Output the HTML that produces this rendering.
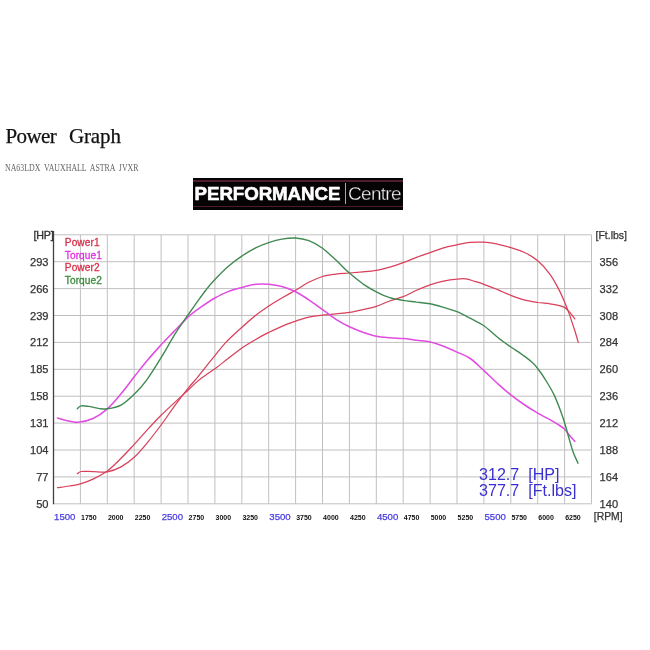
<!DOCTYPE html>
<html><head><meta charset="utf-8"><title>Power Graph</title>
<style>
html,body{margin:0;padding:0;background:#fff;}
body{width:650px;height:650px;overflow:hidden;position:relative;font-family:"Liberation Sans",sans-serif;}
#t1{position:absolute;left:5.6px;top:124px;font-family:"Liberation Serif",serif;font-size:21px;line-height:24px;color:#111;white-space:nowrap;-webkit-text-stroke:0.25px #111;}
#t1 .w1{letter-spacing:-0.65px;}#t1 .w2{letter-spacing:-0.15px;margin-left:7.75px;}
#t2{position:absolute;left:4.5px;top:160px;font-family:"Liberation Serif",serif;font-size:10.8px;line-height:14px;color:#666;letter-spacing:0px;white-space:nowrap;transform-origin:0 0;transform:scaleX(0.728);word-spacing:2.5px;}
#logo{position:absolute;left:193px;top:178px;width:210px;height:32px;background:#050303;}
#logo .l1,#logo .l2{position:absolute;left:0;width:100%;height:1.4px;background:#4e1c2a;}
#logo .l1{top:2.4px}#logo .l2{top:28px}
#logo .p{position:absolute;left:1.6px;top:5px;font-weight:bold;font-size:18.7px;line-height:22px;color:#fff;letter-spacing:-0.06px;-webkit-text-stroke:0.6px #fff;white-space:nowrap;}
#logo .bar{position:absolute;left:152px;top:5px;width:1px;height:21px;background:#aaa;}
#logo .c{position:absolute;left:155px;top:5px;font-size:19px;line-height:22px;color:#f4f4f4;letter-spacing:-0.7px;-webkit-text-stroke:0.35px #050303;white-space:nowrap;}
svg{position:absolute;left:0;top:0;}
svg text{font-family:"Liberation Sans",sans-serif;}
.ax{font-size:11.1px;fill:#333;stroke:#333;stroke-width:0.25px;}
.xb{font-size:9.6px;fill:#483ce0;stroke:#483ce0;stroke-width:0.25px;}
.xs{font-size:7px;fill:#111;font-weight:bold;}
.lg{font-size:10.15px;stroke-width:0.3px;letter-spacing:0.08px;}
.big{font-size:16.1px;fill:#3a30d0;}
</style></head><body>
<div id="t1"><span class="w1">Power</span> <span class="w2">Graph</span></div>
<div id="t2">NA63LDX VAUXHALL ASTRA JVXR</div>
<div id="logo"><div class="l1"></div><div class="l2"></div><span class="p">PERFORMANCE</span><div class="bar"></div><span class="c">Centre</span></div>
<svg width="650" height="650" viewBox="0 0 650 650">
<g stroke="#c0c0c0" stroke-width="1" fill="none"><line x1="80.4" y1="234.8" x2="80.4" y2="503.8"/><line x1="107.3" y1="234.8" x2="107.3" y2="503.8"/><line x1="134.2" y1="234.8" x2="134.2" y2="503.8"/><line x1="161.1" y1="234.8" x2="161.1" y2="503.8"/><line x1="188.0" y1="234.8" x2="188.0" y2="503.8"/><line x1="214.9" y1="234.8" x2="214.9" y2="503.8"/><line x1="241.8" y1="234.8" x2="241.8" y2="503.8"/><line x1="268.7" y1="234.8" x2="268.7" y2="503.8"/><line x1="295.6" y1="234.8" x2="295.6" y2="503.8"/><line x1="322.5" y1="234.8" x2="322.5" y2="503.8"/><line x1="349.4" y1="234.8" x2="349.4" y2="503.8"/><line x1="376.3" y1="234.8" x2="376.3" y2="503.8"/><line x1="403.2" y1="234.8" x2="403.2" y2="503.8"/><line x1="430.1" y1="234.8" x2="430.1" y2="503.8"/><line x1="457.0" y1="234.8" x2="457.0" y2="503.8"/><line x1="483.9" y1="234.8" x2="483.9" y2="503.8"/><line x1="510.8" y1="234.8" x2="510.8" y2="503.8"/><line x1="537.7" y1="234.8" x2="537.7" y2="503.8"/><line x1="564.6" y1="234.8" x2="564.6" y2="503.8"/><line x1="591.5" y1="234.8" x2="591.5" y2="503.8"/><line x1="53.5" y1="234.8" x2="591.5" y2="234.8"/><line x1="53.5" y1="261.7" x2="591.5" y2="261.7"/><line x1="53.5" y1="288.6" x2="591.5" y2="288.6"/><line x1="53.5" y1="315.5" x2="591.5" y2="315.5"/><line x1="53.5" y1="342.4" x2="591.5" y2="342.4"/><line x1="53.5" y1="369.3" x2="591.5" y2="369.3"/><line x1="53.5" y1="396.2" x2="591.5" y2="396.2"/><line x1="53.5" y1="423.1" x2="591.5" y2="423.1"/><line x1="53.5" y1="450.0" x2="591.5" y2="450.0"/><line x1="53.5" y1="476.9" x2="591.5" y2="476.9"/><line x1="53.5" y1="503.8" x2="591.5" y2="503.8"/></g>
<line x1="53.5" y1="231" x2="53.5" y2="504.3" stroke="#404040" stroke-width="1.3"/>
<g fill="none" stroke-width="1.25" stroke-linecap="round" stroke-linejoin="round">
<path stroke="#d9405a" d="M57.5 487.7C59.5 487.4 65.6 486.7 69.4 486.0C73.2 485.4 76.5 485.1 80.4 483.9C84.3 482.7 88.6 481.2 93.0 479.1C97.5 476.9 102.6 474.4 107.3 471.0C112.0 467.5 116.5 462.8 121.0 458.3C125.5 453.9 129.9 449.0 134.2 444.4C138.5 439.7 142.4 435.2 146.8 430.4C151.3 425.5 156.4 420.0 161.1 415.3C165.8 410.6 170.3 406.6 174.8 402.4C179.3 398.2 184.2 393.8 188.0 390.3C191.8 386.7 194.7 383.7 197.7 381.1C200.7 378.5 203.3 376.7 206.2 374.7C209.0 372.6 211.2 371.5 214.9 368.8C218.6 366.1 223.6 362.0 228.1 358.5C232.6 355.1 237.1 351.3 241.8 348.0C246.5 344.8 251.6 341.8 256.1 339.2C260.5 336.6 264.4 334.6 268.7 332.4C273.0 330.3 277.4 328.1 281.9 326.3C286.4 324.4 291.1 322.7 295.6 321.1C300.1 319.6 304.3 318.1 308.8 317.1C313.3 316.1 318.0 315.8 322.5 315.2C327.0 314.7 331.5 314.4 335.9 313.9C340.4 313.4 344.9 313.1 349.4 312.4C353.9 311.7 358.4 310.6 362.8 309.6C367.3 308.6 371.8 307.8 376.3 306.4C380.8 304.9 385.3 302.6 389.8 301.0C394.2 299.4 398.7 298.5 403.2 296.7C407.7 294.9 412.2 292.2 416.6 290.2C421.1 288.2 425.6 286.4 430.1 284.8C434.6 283.3 439.1 282.0 443.5 281.1C448.0 280.1 453.3 279.4 457.0 279.1C460.7 278.7 463.0 278.5 465.9 278.9C468.8 279.3 471.5 280.4 474.5 281.3C477.5 282.2 480.0 282.9 483.9 284.3C487.8 285.7 493.7 288.1 498.2 289.9C502.6 291.8 506.5 293.7 510.8 295.3C515.1 297.0 519.5 298.7 524.0 299.9C528.5 301.1 533.4 301.8 537.7 302.5C542.0 303.1 546.4 303.3 549.8 303.8C553.3 304.3 555.9 304.7 558.4 305.3C560.9 305.9 562.8 306.4 564.6 307.4C566.4 308.5 567.5 309.8 569.2 311.7C570.9 313.6 573.9 317.7 574.8 318.9"/>
<path stroke="#d9405a" d="M77.3 473.7C78.0 473.3 78.6 471.9 81.2 471.5C83.8 471.2 88.7 471.5 93.0 471.5C97.4 471.6 102.6 472.6 107.3 471.8C112.0 471.0 116.5 469.4 121.0 466.9C125.5 464.5 129.9 461.2 134.2 457.3C138.5 453.3 142.4 448.7 146.8 443.3C151.3 437.9 156.4 431.3 161.1 425.0C165.8 418.7 170.3 411.7 174.8 405.6C179.3 399.5 184.2 393.2 188.0 388.4C191.8 383.6 194.7 380.8 197.7 377.1C200.7 373.4 203.3 369.9 206.2 366.3C209.0 362.8 211.7 359.5 214.9 355.6C218.1 351.7 221.4 347.2 225.4 342.9C229.3 338.7 233.5 335.0 238.6 330.3C243.7 325.6 251.0 319.0 256.1 315.0C261.1 310.9 264.4 308.9 268.7 306.1C273.0 303.3 277.4 300.7 281.9 298.0C286.4 295.4 291.1 292.8 295.6 290.2C300.1 287.6 304.3 284.6 308.8 282.3C313.3 280.0 318.0 277.9 322.5 276.5C327.0 275.1 331.5 274.7 335.9 274.1C340.4 273.5 344.9 273.4 349.4 273.0C353.9 272.6 358.4 272.3 362.8 271.9C367.3 271.5 371.8 271.2 376.3 270.4C380.8 269.7 385.3 268.5 389.8 267.2C394.2 265.9 398.7 264.3 403.2 262.6C407.7 261.0 412.2 258.9 416.6 257.3C421.1 255.6 425.6 254.1 430.1 252.6C434.6 251.0 439.1 249.1 443.5 247.8C448.0 246.5 452.6 245.7 457.0 244.8C461.4 243.8 465.7 242.8 470.2 242.4C474.7 242.0 479.2 241.9 483.9 242.2C488.6 242.5 493.7 243.5 498.2 244.3C502.6 245.2 506.5 246.3 510.8 247.6C515.1 248.9 519.5 250.0 524.0 252.2C528.5 254.3 533.4 257.1 537.7 260.8C542.0 264.4 546.4 269.4 549.8 274.1C553.3 278.7 555.9 283.9 558.4 288.6C560.9 293.3 562.8 297.8 564.6 302.1C566.4 306.3 567.5 309.2 569.2 313.9C570.8 318.5 573.0 325.3 574.6 330.0C576.1 334.8 577.7 340.3 578.3 342.4"/>
<path stroke="#e24ce2" stroke-width="1.55" d="M57.5 418.0C59.1 418.4 63.8 420.0 67.2 420.7C70.6 421.4 73.7 422.7 78.0 422.3C82.3 421.9 88.2 420.8 93.0 418.5C97.9 416.3 102.6 413.0 107.3 408.8C112.0 404.7 116.5 399.1 121.0 393.8C125.5 388.4 129.9 382.3 134.2 376.8C138.5 371.4 142.4 366.3 146.8 361.0C151.3 355.6 156.6 349.8 161.1 344.8C165.6 339.9 170.2 335.4 174.0 331.4C177.9 327.4 181.9 323.3 184.2 320.9C186.6 318.5 185.2 319.2 188.0 316.8C190.8 314.5 196.7 310.0 201.2 306.9C205.7 303.8 210.4 300.6 214.9 298.0C219.4 295.5 223.6 293.3 228.1 291.6C232.6 289.8 237.1 288.7 241.8 287.5C246.5 286.3 251.6 284.8 256.1 284.3C260.5 283.8 264.4 283.9 268.7 284.3C273.0 284.7 277.4 285.3 281.9 286.6C286.4 287.8 291.1 289.6 295.6 291.8C300.1 294.0 304.3 296.9 308.8 299.9C313.3 302.9 318.0 306.4 322.5 309.6C327.0 312.8 331.5 316.4 335.9 319.3C340.4 322.1 344.9 324.6 349.4 326.8C353.9 328.9 358.4 330.6 362.8 332.2C367.3 333.7 371.8 335.3 376.3 336.2C380.8 337.2 385.3 337.4 389.8 337.8C394.2 338.2 398.7 338.2 403.2 338.6C407.7 339.0 412.2 339.7 416.6 340.2C421.1 340.8 425.6 340.9 430.1 341.9C434.6 342.8 439.1 344.5 443.5 346.2C448.0 347.9 452.6 350.0 457.0 352.1C461.4 354.1 465.7 355.4 470.2 358.5C474.7 361.6 479.2 366.4 483.9 370.6C488.6 374.9 493.7 380.1 498.2 384.1C502.6 388.1 506.5 391.4 510.8 394.9C515.1 398.3 519.5 401.5 524.0 404.5C528.5 407.6 533.4 410.6 537.7 413.1C542.0 415.7 546.4 417.7 549.8 419.6C553.3 421.5 555.9 423.1 558.4 424.7C560.9 426.3 562.7 427.4 564.6 429.3C566.5 431.1 568.3 433.9 570.0 435.9C571.7 437.9 574.0 440.4 574.8 441.3"/>
<path stroke="#408a50" stroke-width="1.4" d="M77.3 408.8C78.0 408.3 79.3 406.3 81.2 405.9C83.1 405.5 85.7 406.0 88.7 406.4C91.8 406.9 96.4 408.2 99.5 408.6C102.6 409.0 103.7 409.4 107.3 408.8C110.9 408.3 116.5 407.5 121.0 405.1C125.5 402.7 129.9 398.5 134.2 394.3C138.5 390.1 142.4 385.9 146.8 379.8C151.3 373.7 156.6 365.1 161.1 357.7C165.6 350.4 170.2 341.9 174.0 335.7C177.9 329.4 181.9 323.8 184.2 320.3C186.6 316.9 185.8 318.1 188.0 315.0C190.2 311.8 194.7 305.5 197.7 301.2C200.7 297.0 203.3 293.3 206.2 289.7C209.0 286.0 211.2 283.3 214.9 279.5C218.6 275.6 223.6 270.4 228.1 266.5C232.6 262.6 237.1 259.2 241.8 256.1C246.5 252.9 251.6 250.0 256.1 247.7C260.5 245.5 264.4 244.0 268.7 242.6C273.0 241.2 277.4 239.9 281.9 239.1C286.4 238.3 291.1 237.8 295.6 238.0C300.1 238.3 304.3 239.0 308.8 240.7C313.3 242.4 318.0 245.0 322.5 248.2C327.0 251.5 331.5 256.0 335.9 260.1C340.4 264.2 344.9 269.1 349.4 273.0C353.9 276.9 358.4 280.6 362.8 283.8C367.3 286.9 371.8 289.5 376.3 291.8C380.8 294.2 385.3 296.3 389.8 297.7C394.2 299.2 398.7 299.7 403.2 300.4C407.7 301.2 412.2 301.5 416.6 302.1C421.1 302.6 425.6 302.9 430.1 303.8C434.6 304.7 439.1 306.1 443.5 307.4C448.0 308.8 452.6 309.9 457.0 311.7C461.4 313.5 465.7 315.9 470.2 318.2C474.7 320.5 479.2 322.4 483.9 325.7C488.6 329.0 493.7 334.3 498.2 337.8C502.6 341.4 506.5 344.0 510.8 347.0C515.1 350.0 520.4 353.2 524.0 355.9C527.6 358.5 530.0 360.5 532.3 362.6C534.6 364.7 535.5 365.6 537.7 368.5C539.9 371.4 542.8 375.4 545.5 379.8C548.2 384.2 551.6 389.7 554.1 394.9C556.6 400.1 558.8 406.3 560.6 411.0C562.3 415.7 563.2 418.2 564.6 422.8C566.0 427.5 567.7 433.9 569.2 439.0C570.7 444.0 572.0 449.1 573.5 453.1C575.0 457.1 577.3 461.5 578.0 463.2"/>
</g>
<text x="33.6" y="239" class="ax" style="font-size:10.7px;stroke-width:0.35px;letter-spacing:-0.25px">[HP]</text>
<text x="595.5" y="239" class="ax" style="font-size:10.5px">[Ft.lbs]</text>
<text x="593.8" y="519.8" class="ax" style="font-size:10.4px">[RPM]</text>
<text x="48.5" y="265.7" text-anchor="end" class="ax">293</text><text x="48.5" y="292.6" text-anchor="end" class="ax">266</text><text x="48.5" y="319.5" text-anchor="end" class="ax">239</text><text x="48.5" y="346.4" text-anchor="end" class="ax">212</text><text x="48.5" y="373.3" text-anchor="end" class="ax">185</text><text x="48.5" y="400.2" text-anchor="end" class="ax">158</text><text x="48.5" y="427.1" text-anchor="end" class="ax">131</text><text x="48.5" y="454.0" text-anchor="end" class="ax">104</text><text x="48.5" y="480.9" text-anchor="end" class="ax">77</text><text x="48.5" y="507.8" text-anchor="end" class="ax">50</text><text x="599.6" y="265.7" class="ax">356</text><text x="599.6" y="292.6" class="ax">332</text><text x="599.6" y="319.5" class="ax">308</text><text x="599.6" y="346.4" class="ax">284</text><text x="599.6" y="373.3" class="ax">260</text><text x="599.6" y="400.2" class="ax">236</text><text x="599.6" y="427.1" class="ax">212</text><text x="599.6" y="454.0" class="ax">188</text><text x="599.6" y="480.9" class="ax">164</text><text x="599.6" y="507.8" class="ax">140</text>
<text x="54.1" y="520.3" class="xb">1500</text><text x="81.0" y="519.7" class="xs">1750</text><text x="107.9" y="519.7" class="xs">2000</text><text x="134.8" y="519.7" class="xs">2250</text><text x="161.7" y="520.3" class="xb">2500</text><text x="188.6" y="519.7" class="xs">2750</text><text x="215.5" y="519.7" class="xs">3000</text><text x="242.4" y="519.7" class="xs">3250</text><text x="269.3" y="520.3" class="xb">3500</text><text x="296.2" y="519.7" class="xs">3750</text><text x="323.1" y="519.7" class="xs">4000</text><text x="350.0" y="519.7" class="xs">4250</text><text x="376.9" y="520.3" class="xb">4500</text><text x="403.8" y="519.7" class="xs">4750</text><text x="430.7" y="519.7" class="xs">5000</text><text x="457.6" y="519.7" class="xs">5250</text><text x="484.5" y="520.3" class="xb">5500</text><text x="511.4" y="519.7" class="xs">5750</text><text x="538.3" y="519.7" class="xs">6000</text><text x="565.2" y="519.7" class="xs">6250</text>
<text x="64.8" y="245.8" class="lg" fill="#d8324a" stroke="#d8324a">Power1</text>
<text x="64.8" y="258.5" class="lg" fill="#e030e0" stroke="#e030e0">Torque1</text>
<text x="64.8" y="271.1" class="lg" fill="#d8324a" stroke="#d8324a">Power2</text>
<text x="64.8" y="283.8" class="lg" fill="#3a8a3a" stroke="#3a8a3a">Torque2</text>
<text x="479" y="480" class="big" xml:space="preserve">312.7  [HP]</text>
<text x="479" y="496.1" class="big" xml:space="preserve">377.7  [Ft.lbs]</text>
</svg>
</body></html>
